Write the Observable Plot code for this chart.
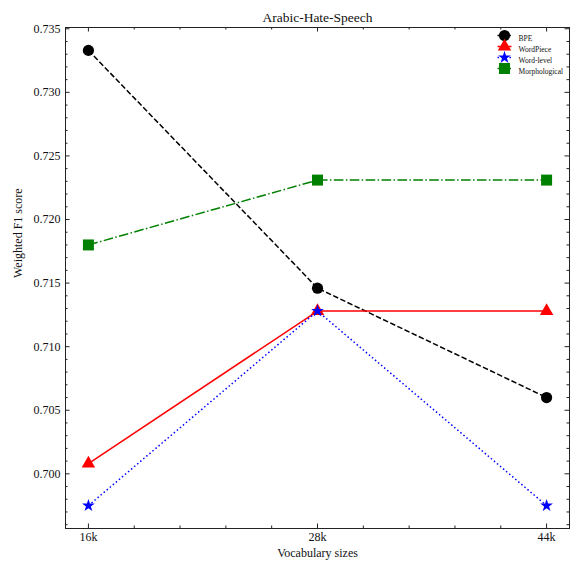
<!DOCTYPE html>
<html>
<head>
<meta charset="utf-8">
<script src="https://cdn.jsdelivr.net/npm/d3@7"></script>
<script src="https://cdn.jsdelivr.net/npm/@observablehq/plot@0.6"></script>
<style>
  html, body { margin: 0; padding: 0; background: #fff; }
  #chart svg { display: block; }
</style>
</head>
<body>
<div id="chart"></div>
<script>
// ---- data ----
const vocab = ["16k", "28k", "44k"];
const seriesNames = ["BPE", "WordPiece", "Word-level", "Morphological"];
const bpe = [0.7333, 0.7146, 0.7060];
const wordpiece = [0.7008, 0.7128, 0.7128];
const wordlevel = [0.6975, 0.7128, 0.6975];
const morphological = [0.7180, 0.7231, 0.7231];
const yTickValues = [0.700, 0.705, 0.710, 0.715, 0.720, 0.725, 0.730, 0.735];
const title = "Arabic-Hate-Speech";
const xLabel = "Vocabulary sizes";
const yLabel = "Weighted F1 score";

// ---- styles ----
const seriesValues = [bpe, wordpiece, wordlevel, morphological];
const colors = ["#000000", "#ff0000", "#0000ff", "#008000"];
const dashes = ["5.5,2.4", null, "1.5,2.5", "9.6,2.4,1.5,2.4"];
const symbols = ["circle", "triangle", "star", "square"];
const radii = [5.6, 5.0, 4.0, 6.2];

const W = 574, H = 567;
const mL = 65, mR = 5, mT = 27, mB = 39;
const pw = W - mL - mR, ph = H - mT - mB;

const xIdx = vocab.map((_, i) => i);
const xMinor = d3.range(0, 2.0001, 0.2).map(v => Math.round(v * 10) / 10).filter(v => !xIdx.includes(v));
const yMinor = d3.range(696, 736).map(v => v / 1000).filter(v => !yTickValues.some(t => Math.abs(t - v) < 1e-9));

const rows = [];
seriesNames.forEach((s, k) => seriesValues[k].forEach((v, i) => rows.push({series: s, k, i, v})));

const lineSym = {
  draw(ctx) { ctx.moveTo(-7, 0); ctx.lineTo(7, 0); }
};

const marks = [];
marks.push(Plot.frame({stroke: "#222", strokeWidth: 1}));
const tickStyle = {stroke: "#222", strokeWidth: 1};
marks.push(Plot.tickY(yTickValues, {y: d => d, insetRight: pw - 4.5, ...tickStyle}));
marks.push(Plot.tickY(yTickValues, {y: d => d, insetLeft: pw - 4.5, ...tickStyle}));
marks.push(Plot.tickY(yMinor, {y: d => d, insetRight: pw - 2.5, ...tickStyle}));
marks.push(Plot.tickY(yMinor, {y: d => d, insetLeft: pw - 2.5, ...tickStyle}));
marks.push(Plot.tickX(xIdx, {x: d => d, insetTop: ph - 4.5, ...tickStyle}));
marks.push(Plot.tickX(xIdx, {x: d => d, insetBottom: ph - 4.5, ...tickStyle}));
marks.push(Plot.tickX(xMinor, {x: d => d, insetTop: ph - 2.5, ...tickStyle}));
marks.push(Plot.tickX(xMinor, {x: d => d, insetBottom: ph - 2.5, ...tickStyle}));
marks.push(Plot.axisX(xIdx, {tickFormat: i => vocab[i], tickSize: 0, tickPadding: 4, fontSize: 12, label: null, fill: "#111"}));
marks.push(Plot.axisY(yTickValues, {tickFormat: d3.format(".3f"), tickSize: 0, tickPadding: 5, fontSize: 12, label: null, fill: "#111"}));
marks.push(Plot.text([xLabel], {frameAnchor: "bottom", dy: 28, fontSize: 12, fill: "#111"}));
marks.push(Plot.text([yLabel], {frameAnchor: "left", dx: -47, rotate: -90, fontSize: 12, fill: "#111"}));
marks.push(Plot.text([title], {frameAnchor: "top", dy: -15, fontSize: 13.5, fill: "#111"}));

seriesNames.forEach((s, k) => {
  const data = rows.filter(r => r.k === k);
  marks.push(Plot.line(data, {x: "i", y: "v", stroke: colors[k], strokeWidth: 1.5, strokeDasharray: dashes[k], strokeLinecap: "butt"}));
  marks.push(Plot.dot(data, {x: "i", y: "v", symbol: symbols[k], r: radii[k], fill: colors[k], stroke: "none"}));
});

seriesNames.forEach((s, k) => {
  const dy = 8 + k * 11;
  marks.push(Plot.dot([s], {frameAnchor: "top-right", dx: -65, dy, symbol: lineSym, r: 5, fill: "none", stroke: colors[k], strokeWidth: 1.5, strokeDasharray: dashes[k]}));
  marks.push(Plot.dot([s], {frameAnchor: "top-right", dx: -65, dy, symbol: symbols[k], r: radii[k], fill: colors[k], stroke: "none"}));
  marks.push(Plot.text([s], {frameAnchor: "top-right", dx: -51, dy, text: d => d, textAnchor: "start", fontSize: 7.5, fill: "#111"}));
});

const chart = Plot.plot({
  width: W,
  height: H,
  marginLeft: mL,
  marginRight: mR,
  marginTop: mT,
  marginBottom: mB,
  x: {domain: [-0.1, 2.1], axis: null},
  y: {domain: [0.6957, 0.7351], axis: null},
  style: {fontFamily: "'Liberation Serif', 'DejaVu Serif', serif", background: "#fff"},
  marks
});
document.getElementById("chart").appendChild(chart);
</script>
</body>
</html>
